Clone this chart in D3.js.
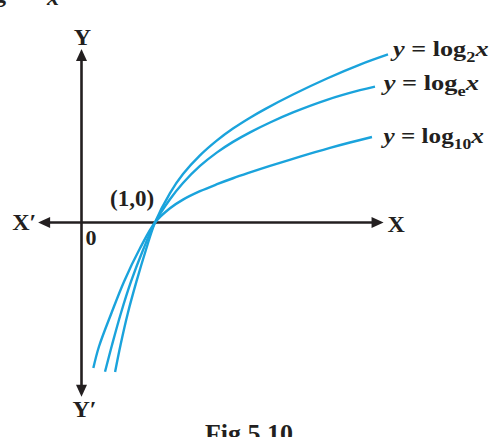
<!DOCTYPE html>
<html>
<head>
<meta charset="utf-8">
<script src="https://cdn.jsdelivr.net/npm/d3@7"></script>
<style>
  html, body { margin: 0; padding: 0; background: #ffffff; }
  svg { display: block; }
  text { font-family: 'Liberation Serif', 'Times New Roman', serif; fill: #231f20; }
</style>
</head>
<body>
<svg id="chart" width="491" height="437"></svg>
<script>
// ---- data (in graph units) ----
const curveBases = ["2", "e", "10"];
const log2X  = [0.457, 0.531, 0.631, 0.747, 0.876, 1.0, 1.204, 1.381, 1.612, 1.844, 2.061, 2.293, 2.497, 2.878, 3.340, 3.789, 4.170];
const log2Y  = [-2.034, -1.667, -1.231, -0.805, -0.374, 0, 0.401, 0.659, 0.913, 1.117, 1.278, 1.426, 1.543, 1.741, 1.959, 2.148, 2.286];
const logeX  = [0.320, 0.415, 0.537, 0.673, 0.837, 1.0, 1.204, 1.381, 1.612, 1.844, 2.061, 2.293, 2.565, 2.878, 3.340, 3.789, 3.993];
const logeY  = [-2.030, -1.667, -1.231, -0.805, -0.374, 0, 0.316, 0.537, 0.769, 0.954, 1.097, 1.227, 1.361, 1.498, 1.669, 1.800, 1.849];
const log10X = [0.161, 0.238, 0.408, 0.578, 0.796, 1.0, 1.204, 1.381, 1.612, 1.844, 2.061, 2.293, 2.565, 2.973, 3.381, 3.653, 3.952];
const log10Y = [-1.980, -1.687, -1.231, -0.805, -0.351, 0, 0.194, 0.311, 0.426, 0.521, 0.602, 0.681, 0.770, 0.896, 1.015, 1.088, 1.163];
const xAxisRange = [-0.59, 4.11];
const yAxisRange = [-2.37, 2.36];
const pointLabel = "(1,0)";
const originLabel = "0";
const figCaption = "Fig 5.10";

// ---- layout ----
const svg = d3.select("#chart");
const x = d3.scaleLinear().domain([0, 1]).range([81.5, 155]);
const y = d3.scaleLinear().domain([0, 1]).range([222.5, 149]);
const axisColor = "#231f20";
const curveColor = "#1aa3dc";
const AL = 12, AW = 5.5; // arrow length / half width

// partial text at top-left (cut off line from the page above)
svg.append("text").attr("x", -6).attr("y", 2).attr("font-size", 24).attr("font-weight", "bold").text("g");
svg.append("text").attr("x", 47).attr("y", 5).attr("font-size", 24).attr("font-weight", "bold").attr("font-style", "italic").text("x");

// axes
const x0 = x(xAxisRange[0]), x1 = x(xAxisRange[1]);
const y0 = y(yAxisRange[0]), y1 = y(yAxisRange[1]);
const ox = x(0), oy = y(0);
const axes = svg.append("g");
axes.append("line").attr("x1", x0 + AL - 1).attr("x2", x1 - AL + 1).attr("y1", oy).attr("y2", oy)
  .attr("stroke", axisColor).attr("stroke-width", 2.6);
axes.append("line").attr("x1", ox).attr("x2", ox).attr("y1", y1 + AL - 1).attr("y2", y0 - AL + 1)
  .attr("stroke", axisColor).attr("stroke-width", 2.6);
const tri = (tx, ty, dx, dy) => {
  const bx = tx - dx * AL, by = ty - dy * AL;
  const px = -dy * AW, py = dx * AW;
  return `M${tx},${ty}L${bx + px},${by + py}L${bx - px},${by - py}Z`;
};
[[x0, oy, -1, 0], [x1, oy, 1, 0], [ox, y1, 0, -1], [ox, y0, 0, 1]].forEach(a => {
  axes.append("path").attr("d", tri(...a)).attr("fill", axisColor);
});

// axis labels
const lab = (t, lx, ly, anchor) => svg.append("text").attr("x", lx).attr("y", ly)
  .attr("font-size", 24).attr("font-weight", "bold").attr("text-anchor", anchor || "start").text(t);
lab("X\u2032", x0 - 26, oy + 7.5);
lab("X", x1 + 4, oy + 9);
lab("Y", ox + 1, y1 - 4.5, "middle");
lab("Y\u2032", ox - 9, y0 + 20.5);

svg.append("text").attr("x", ox + 4).attr("y", oy + 22.5).attr("font-size", 22).attr("font-weight", "bold").text(originLabel);
svg.append("text").attr("x", x(1) - 45).attr("y", oy - 16.5).attr("font-size", 23).attr("font-weight", "bold").text(pointLabel);

// curves
const series = [
  { base: curveBases[0], xs: log2X, ys: log2Y },
  { base: curveBases[1], xs: logeX, ys: logeY },
  { base: curveBases[2], xs: log10X, ys: log10Y }
];
const line = d3.line().x(d => x(d[0])).y(d => y(d[1])).curve(d3.curveCatmullRom.alpha(0.5));
series.forEach(s => {
  const pts = s.xs.map((v, i) => [v, s.ys[i]]);
  svg.append("path").attr("d", line(pts)).attr("fill", "none")
    .attr("stroke", curveColor).attr("stroke-width", 2.4).attr("stroke-linecap", "butt");
});

// curve labels
const labelOffsets = [[2.5, 1.5], [6, 3.5], [9, 5.5]];
const labelWidths = [98, 98, 103];
series.forEach((s, i) => {
  const n = s.xs.length;
  const ex = x(s.xs[n - 1]) + labelOffsets[i][0];
  const ey = y(s.ys[n - 1]) + labelOffsets[i][1];
  const g = svg.append("g");
  const t = g.append("text").attr("x", 0).attr("y", 0).attr("font-size", 20).attr("font-weight", "bold");
  t.append("tspan").attr("font-style", "italic").text("y");
  t.append("tspan").text(" = log");
  t.append("tspan").attr("font-size", 14).attr("dy", 6).text(s.base);
  t.append("tspan").attr("font-style", "italic").attr("dy", -6).text("x");
  const bb = t.node().getBBox();
  const sx = labelWidths[i] / bb.width;
  g.attr("transform", `translate(${ex - bb.x * sx},${ey}) scale(${sx},1)`);
});

// caption (cut off at the bottom, as in the source page)
svg.append("text").attr("x", 249).attr("y", 442).attr("font-size", 26).attr("font-weight", "bold")
  .attr("text-anchor", "middle").text(figCaption);
</script>
</body>
</html>
